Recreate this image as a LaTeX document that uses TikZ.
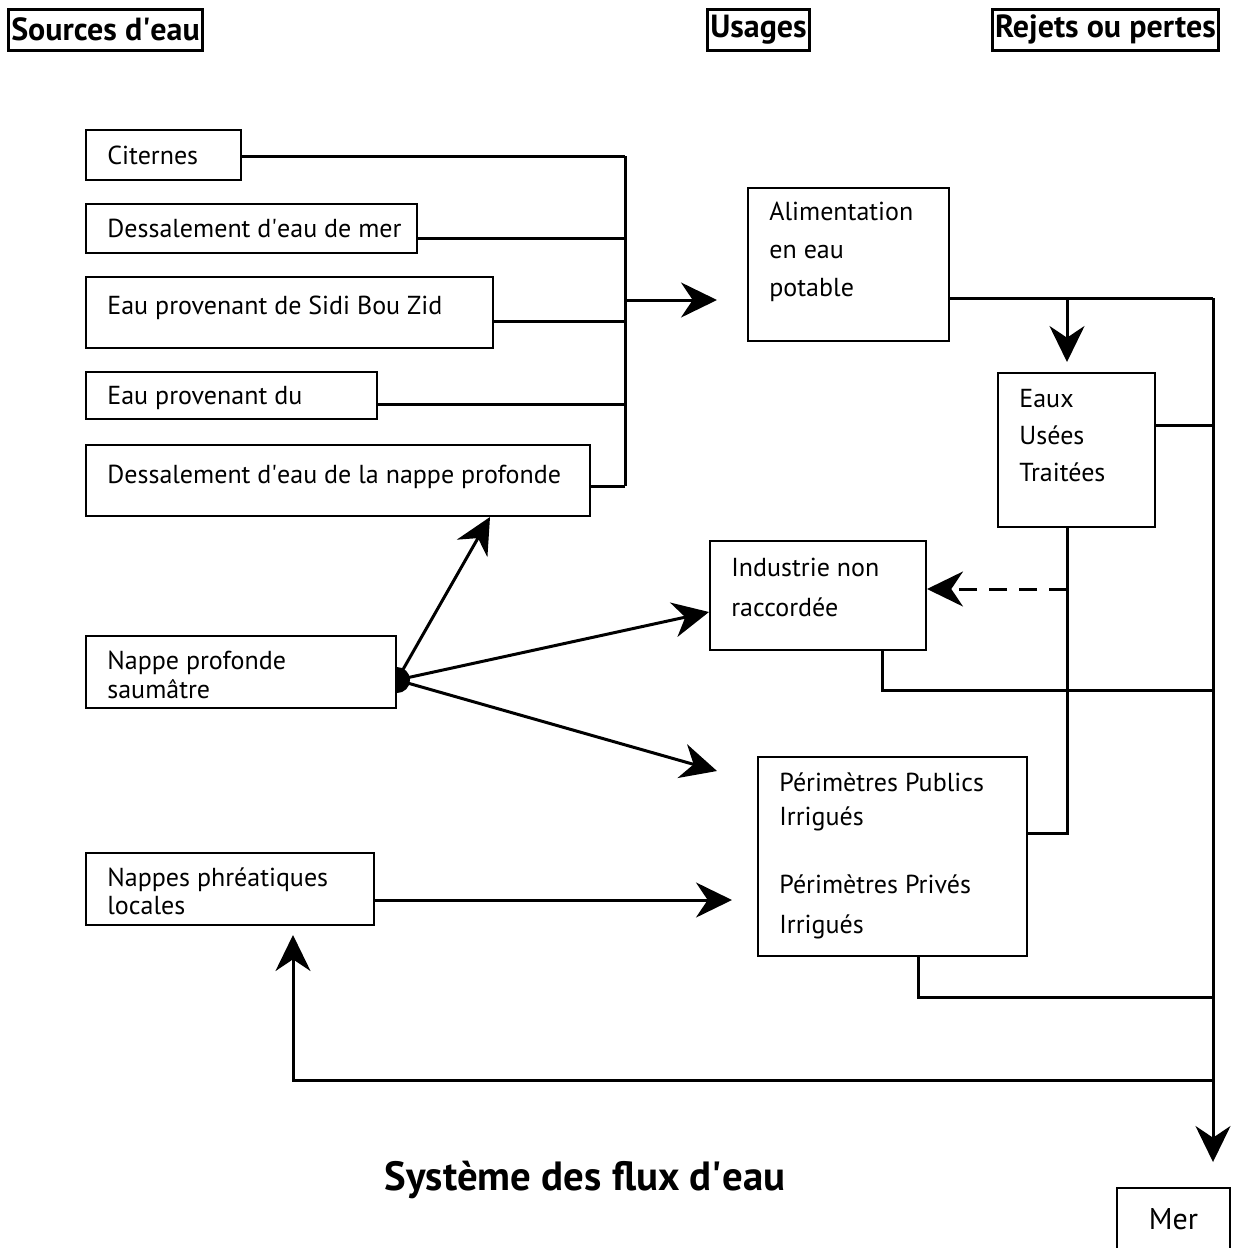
\documentclass[tikz,border=0pt]{standalone}
\usepackage{fontspec}
\setmainfont{PT Sans}
\usetikzlibrary{arrows.meta,calc}

\begin{document}
\begin{tikzpicture}[
    x=0.5pt, y=-0.5pt,
    box/.style={draw, line width=1pt, fill=white, inner sep=0pt},
    head/.style={draw, line width=1.5pt, inner xsep=1.5pt, inner ysep=0pt, minimum height=20.5pt, font=\fontsize{16}{18}\selectfont\bfseries},
    txt/.style={anchor=base west, inner sep=0pt, align=left, font=\fontsize{13}{17}\selectfont},
    line/.style={line width=1.5pt},
    arr/.style={line width=1.5pt, -{Stealth[length=18pt, width=17.5pt]}},
]
    \useasboundingbox (0,0) rectangle (1237,1248);

    % column titles
    \node[head, minimum width=96.5pt] (h-src) at (105.5,29.5) {Sources d\textquotesingle eau};
    \node[head, minimum width=49.5pt] (h-use) at (758.5,29.5) {Usages};
    \node[head, minimum width=112.5pt] (h-rej) at (1105.5,29.5) {Rejets ou pertes};

    % sources
    \node[box, minimum width=77.5pt, minimum height=25pt] (cit) at (163.5,155) {};
    \node[box, minimum width=165.5pt, minimum height=24.5pt] (dmer) at (251.5,228.5) {};
    \node[box, minimum width=203.5pt, minimum height=35.5pt] (sidi) at (289.5,312.5) {};
    \node[box, minimum width=145.5pt, minimum height=23.5pt] (sbz) at (231.5,395.5) {};
    \node[box, minimum width=252pt, minimum height=35.5pt] (dnap) at (338,480.5) {};
    \node[box, minimum width=155pt, minimum height=36pt] (nps) at (241,672) {};
    \node[box, minimum width=144pt, minimum height=36pt] (nphr) at (230,889) {};

    \node[txt] (cit-t) at (107,164) {Citernes};
    \node[txt] (dmer-t) at (107,237) {Dessalement d\textquotesingle eau de mer};
    \node[txt] (sidi-t) at (107,314) {Eau provenant de Sidi Bou Zid};
    \node[txt] (sbz-t) at (107,404) {Eau provenant du};
    \node[txt] (dnap-t) at (107,483) {Dessalement d\textquotesingle eau de la nappe profonde};
    \node[txt, font=\fontsize{13}{14.5}\selectfont] (nps-t) at (107,698) {Nappe profonde\\saumâtre};
    \node[txt, font=\fontsize{13}{14}\selectfont] (nphr-t) at (107,914) {Nappes phréatiques\\locales};

    % usages
    \node[box, minimum width=100.5pt, minimum height=76.5pt] (alim) at (848.5,264.5) {};
    \node[box, minimum width=108pt, minimum height=54.5pt] (ind) at (818,595.5) {};
    \node[box, minimum width=134.5pt, minimum height=99.5pt] (ppi) at (892.5,856.5) {};
    \node[box, minimum width=78.5pt, minimum height=77pt] (eut) at (1076.5,450) {};

    \node[txt, font=\fontsize{13}{19}\selectfont] (alim-t) at (769,296) {Alimentation\\en eau\\potable};
    \node[txt, font=\fontsize{13}{20}\selectfont] (ind-t) at (731,616) {Industrie non\\raccordée};
    \node[txt] (ppi-t) at (779,933) {Périmètres Publics\\Irrigués\\[17pt]Périmètres Privés\\[3pt]Irrigués};
    \node[txt, font=\fontsize{13}{18.5}\selectfont] (eut-t) at (1019,481) {Eaux\\Usées\\Traitées};

    % rejets
    \node[box, minimum width=56.5pt, minimum height=31pt, font=\fontsize{15}{17}\selectfont] (mer) at (1173.5,1219) {Mer};

    \node[font=\fontsize{20.4}{23}\selectfont\bfseries] (ttl) at (585,1180) {Système des flux d\textquotesingle eau};

    % collecting points
    \coordinate (bus) at (625,300);
    \coordinate (col) at (1213,298);
    \coordinate (drop) at (1067,298);
    \coordinate (k1) at (1213,690);
    \coordinate (k2) at (1213,997);
    \coordinate (k3) at (1213,1080);
    \coordinate (hub) at ([yshift=-4pt]nps.east);
    \coordinate (ind-in) at ([yshift=3.25pt]ind.east);

    % sources to the bus
    \draw[line] ([yshift=-0.5pt]cit.east) -- ([yshift=-0.5pt]cit.east -| bus);
    \draw[line] ([yshift=-4.75pt]dmer.east) -- ([yshift=-4.75pt]dmer.east -| bus);
    \draw[line] ([yshift=-4.25pt]sidi.east) -- ([yshift=-4.25pt]sidi.east -| bus);
    \draw[line] ([yshift=-4.25pt]sbz.east) -- ([yshift=-4.25pt]sbz.east -| bus);
    \draw[line] ([yshift=-2.75pt]dnap.east) -- ([yshift=-2.75pt]dnap.east -| bus);
    \draw[line] ([yshift=-0.5pt]cit.east -| bus) -- ([yshift=-2.75pt]dnap.east -| bus);
    \draw[arr, shorten >=15pt] (bus) -- (bus -| alim.west);

    % potable water and treated water
    \draw[line] (alim.east |- col) -- (col);
    \draw[arr, shorten >=5pt] (drop) -- (drop |- eut.north);
    \draw[line] ([yshift=12.5pt]eut.east) -- ([yshift=12.5pt]eut.east -| col);
    \draw[line] (drop |- eut.south) |- ([yshift=11.75pt]ppi.east);
    \draw[arr, dashed, dash pattern=on 9pt off 6pt] (drop |- ind-in) -- (ind-in);

    % brackish groundwater
    \fill (hub) ++(0,-6.5pt) arc[start angle=-90, end angle=90, radius=6.5pt] -- cycle;
    \draw[arr] (hub) -- ([xshift=76pt]dnap.south);
    \draw[arr] (hub) -- ([yshift=-8.25pt]ind.west);
    \draw[arr] (hub) -- ([xshift=-20pt, yshift=-7.5pt]ppi.north west);
    \draw[arr, shorten >=12.5pt] ([yshift=-5.5pt]nphr.east) -- ([yshift=-5.5pt]nphr.east -| ppi.west);

    % discharges
    \draw[line] ([xshift=32pt]ind.south) |- (k1);
    \draw[line] ([xshift=12.75pt]ppi.south) |- (k2);
    \draw[arr, shorten >=4.5pt] (k3) -| ([xshift=31.5pt]nphr.south);
    \draw[arr, shorten >=12.5pt] (col) -- (col |- mer.north);
\end{tikzpicture}
\end{document}
